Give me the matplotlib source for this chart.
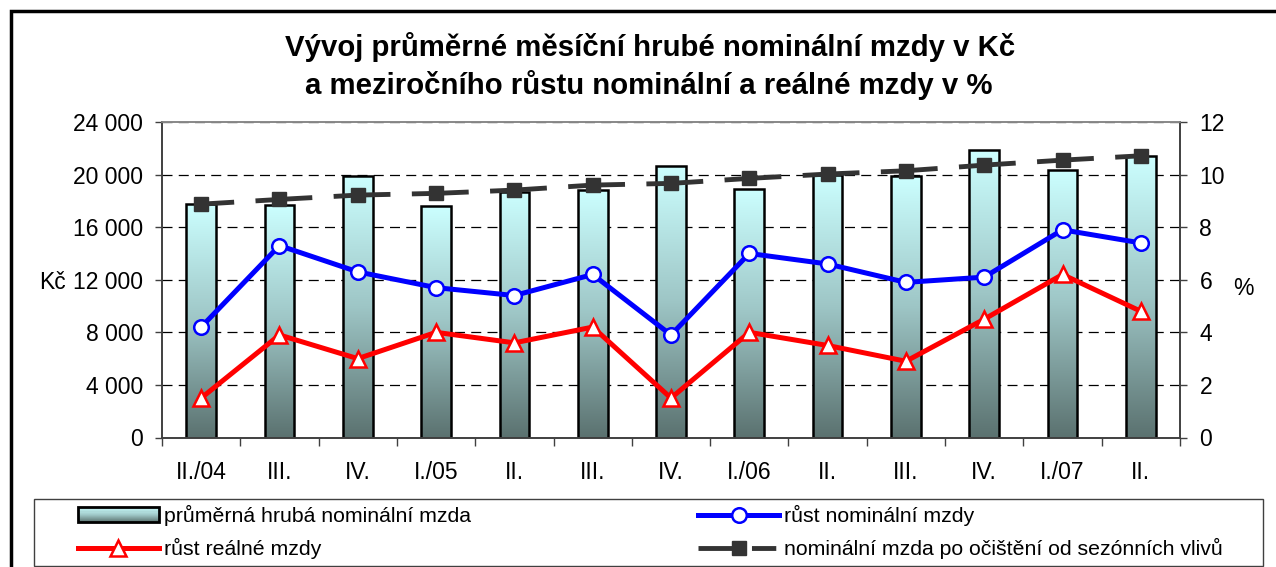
"""Average gross nominal wage (CZK) and y/y growth of nominal and real wages."""

import matplotlib

matplotlib.use("Agg")
import matplotlib.pyplot as plt
import numpy as np
from matplotlib.colors import LinearSegmentedColormap
from matplotlib.legend_handler import HandlerBase
from matplotlib.lines import Line2D
from matplotlib.patches import Patch, Rectangle

plt.rcParams["font.family"] = ["Liberation Sans", "DejaVu Sans"]

quarters = ["II./04", "III.", "IV.", "I./05", "II.", "III.", "IV.",
            "I./06", "II.", "III.", "IV.", "I./07", "II."]
wage = [17750, 17680, 19890, 17620, 18690, 18820, 20650,
        18870, 20000, 19900, 21870, 20340, 21410]
wage_sa = [17750, 18110, 18440, 18570, 18820, 19200, 19330,
           19710, 20040, 20290, 20720, 21100, 21430]
nominal_growth = [4.2, 7.3, 6.3, 5.7, 5.4, 6.2, 3.9, 7.0, 6.6, 5.9, 6.1, 7.9, 7.4]
real_growth = [1.5, 3.9, 3.0, 4.0, 3.6, 4.2, 1.5, 4.0, 3.5, 2.9, 4.5, 6.2, 4.8]

bar_cmap = LinearSegmentedColormap.from_list("bar", ["#5b7270", "#9ec6c6", "#ccffff"])


class GradientHandler(HandlerBase):
    def create_artists(self, legend, orig, xdescent, ydescent, width, height, fontsize, trans):
        arts = []
        n = 14
        for i in range(n):
            arts.append(Rectangle((-xdescent, -ydescent + height * i / n), width, height / n,
                                  facecolor=bar_cmap((i + 0.5) / n), edgecolor="none",
                                  transform=trans))
        arts.append(Rectangle((-xdescent, -ydescent), width, height, facecolor="none",
                              edgecolor="black", lw=2, transform=trans))
        return arts


fig = plt.figure(figsize=(12.76, 5.67), dpi=100)
ax = fig.add_axes([162 / 1276, 1 - 437.5 / 567, 1018 / 1276, 315.5 / 567])
ax2 = ax.twinx()

x = np.arange(len(quarters))
bw = 0.38
bars = ax.bar(x, wage, bw, facecolor="none", edgecolor="black", lw=1.8, zorder=1.5)
grad = np.linspace(0, 1, 256).reshape(-1, 1)[::-1]
for b in bars:
    x0, y0 = b.get_x(), b.get_y()
    im = ax.imshow(grad, extent=(x0, x0 + b.get_width(), y0, y0 + b.get_height()),
                   cmap=bar_cmap, aspect="auto", zorder=1, interpolation="bilinear")
    im.set_clip_path(b)

lw_sa = 3.5
ax.plot(x, wage_sa, color="#333333", lw=lw_sa, marker="s", ms=10, mfc="#333333",
        mec="#333333", linestyle=(4.9, (11.7, 4.4)), zorder=3, solid_capstyle="butt",
        dash_capstyle="butt")

ax2.plot(x, nominal_growth, color="#0000ff", lw=3.6, marker="o", ms=10.5,
         mfc="white", mec="#0000ff", mew=1.8, zorder=4)
ax2.plot(x, real_growth, color="#ff0000", lw=3.6, marker="^", ms=11.5,
         mfc="white", mec="#ff0000", mew=1.8, zorder=4)

ax.set_xlim(-0.5, len(quarters) - 0.5)
ax.set_ylim(0, 24000)
ax2.set_ylim(0, 12)
ax.set_yticks(np.arange(0, 24001, 4000))
ax.set_yticklabels([f"{v:,}".replace(",", " ") for v in range(0, 24001, 4000)])
ax2.set_yticks(np.arange(0, 13, 2))

ax.set_xticks(x)
ax.set_xticklabels(quarters)
ax.set_xticks(np.arange(-0.5, len(quarters)), minor=True)
ax.tick_params(axis="x", which="major", length=0, pad=17, labelsize=16.5)
ax.tick_params(axis="x", which="minor", length=6, width=1, color="#404040", direction="out")
ax.tick_params(axis="y", length=5, width=1, color="#404040", pad=8.5, labelsize=16.5)
ax2.tick_params(axis="y", length=5, width=1, color="#404040", pad=9, labelsize=16.5)

ax.set_axisbelow(True)
ax.yaxis.grid(True, color="black", lw=0.9, linestyle=(0, (8, 5)))

for a in (ax, ax2):
    for s in ("left", "bottom", "right"):
        a.spines[s].set_color("#404040")
        a.spines[s].set_linewidth(1.2)
    a.spines["top"].set_color("#888888")
    a.spines["top"].set_linewidth(1.2)

ax.set_ylabel("Kč", rotation=0, ha="right", va="center_baseline", fontsize=16.5)
ax.yaxis.set_label_coords(-0.095, 0.5)
ax2.set_ylabel("%", rotation=0, ha="left", va="center_baseline", fontsize=16.5)
ax2.yaxis.set_label_coords(1.052, 0.48)

fig.text(650 / 1276, 1 - 56 / 567, "Vývoj průměrné měsíční hrubé nominální mzdy v Kč",
         ha="center", va="baseline", fontsize=21.2, fontweight="bold")
fig.text(649 / 1276, 1 - 94 / 567, "a meziročního růstu nominální a reálné mzdy v %",
         ha="center", va="baseline", fontsize=21.2, fontweight="bold")

# outer chart frame (cropped on right and bottom) and legend box
fig.patches.append(Rectangle((11 / 1276, -0.2), 1.2, 1 - 11 / 567 + 0.2,
                             transform=fig.transFigure, fill=False, lw=2.5,
                             edgecolor="black"))
fig.patches.append(Rectangle((34 / 1276, 1 - 566 / 567), 1229 / 1276, 67 / 567,
                             transform=fig.transFigure, fill=False, lw=1,
                             edgecolor="#404040"))

bar_proxy = Patch()
red_proxy = Line2D([], [], color="#ff0000", lw=3.6, marker="^", ms=11.5,
                   mfc="white", mec="#ff0000", mew=1.8)
blue_proxy = Line2D([], [], color="#0000ff", lw=3.6, marker="o", ms=10.5,
                    mfc="white", mec="#0000ff", mew=1.8)
sa_proxy = Line2D([], [], color="#333333", lw=lw_sa, marker="s", ms=10,
                  linestyle=(0, (9, 2, 5, 10)))
fig.legend([bar_proxy, red_proxy, blue_proxy, sa_proxy],
           ["průměrná hrubá nominální mzda", "růst reálné mzdy",
            "růst nominální mzdy", "nominální mzda po očištění od sezónních vlivů"],
           handler_map={bar_proxy: GradientHandler()},
           loc="upper left", bbox_to_anchor=(78 / 1276, 1 - 505 / 567),
           ncol=2, frameon=False, fontsize=15.3, borderpad=0, borderaxespad=0,
           handlelength=3.8, handletextpad=0.25, columnspacing=10.7,
           labelspacing=0.58)

fig.savefig("out.png", dpi=100)
